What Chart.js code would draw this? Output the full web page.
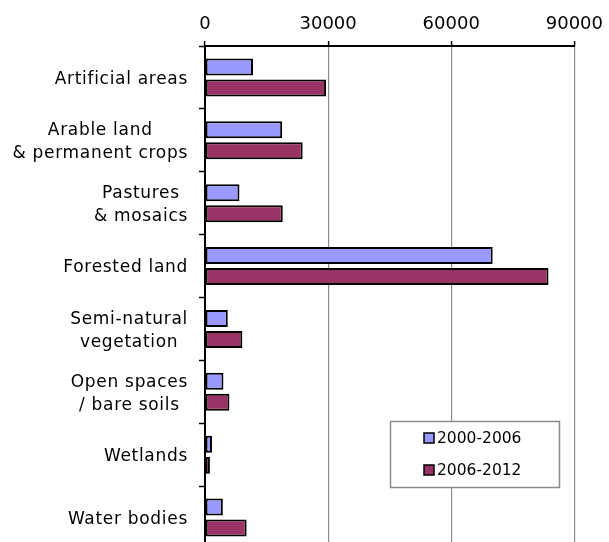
<!DOCTYPE html>
<html>
<head>
<meta charset="utf-8">
<script src="https://cdn.jsdelivr.net/npm/chart.js@4"></script>
<style>
  html, body { margin: 0; padding: 0; background: #fff; overflow: hidden; }
  #wrap { width: 609px; height: 552px; position: relative; }
</style>
</head>
<body>
<div id="wrap"><canvas id="chart"></canvas></div>
<script>
const categories = [
  ['Artificial areas'],
  ['Arable land', '& permanent crops'],
  ['Pastures', '& mosaics'],
  ['Forested land'],
  ['Semi-natural', 'vegetation'],
  ['Open spaces', '/ bare soils'],
  ['Wetlands'],
  ['Water bodies'],
];
const seriesNames = ['2000-2006', '2006-2012'];
const values2000 = [11700, 18800, 8400, 70100, 5550, 4500, 1700, 4350];
const values2006 = [29500, 23800, 18950, 83700, 9100, 5950, 1200, 10150];
const xTicks = [0, 30000, 60000, 90000];

const colours = ['#9999ff', '#993366'];
const fontFamily = "'DejaVu Sans', Verdana, sans-serif";

// category labels: each block right aligned, its lines centred on each other
const categoryLabelPlugin = {
  id: 'categoryLabels',
  afterDraw(chart) {
    const { ctx } = chart;
    const yScale = chart.scales.y;
    const rightEdge = yScale.right - 17;
    const lineHeight = 23;
    ctx.save();
    ctx.font = `17px ${fontFamily}`;
    ctx.letterSpacing = '0.7px';
    ctx.fillStyle = '#000';
    ctx.textAlign = 'center';
    ctx.textBaseline = 'middle';
    categories.forEach((lines, index) => {
      const y = yScale.getPixelForTick(index) + 2;
      const widest = Math.max(...lines.map((line) => ctx.measureText(line).width));
      const x = rightEdge - widest / 2;
      const top = y - ((lines.length - 1) * lineHeight) / 2;
      lines.forEach((line, i) => ctx.fillText(line, x, top + i * lineHeight));
    });
    ctx.restore();
  },
};

// legend box sitting inside the plot, like the spreadsheet original
const boxedLegendPlugin = {
  id: 'boxedLegend',
  afterDatasetsDraw(chart) {
    const { ctx } = chart;
    ctx.save();
    ctx.fillStyle = '#fff';
    ctx.strokeStyle = '#8c8c8c';
    ctx.lineWidth = 1.5;
    ctx.fillRect(390.5, 421.5, 169, 66);
    ctx.strokeRect(390.5, 421.5, 169, 66);
    ctx.font = `15.5px ${fontFamily}`;
    ctx.textAlign = 'left';
    ctx.textBaseline = 'middle';
    chart.data.datasets.forEach((dataset, i) => {
      const y = 438 + i * 32;
      ctx.fillStyle = dataset.backgroundColor;
      ctx.fillRect(424, y - 5, 10, 10);
      ctx.strokeStyle = '#000';
      ctx.lineWidth = 1.5;
      ctx.strokeRect(424, y - 5, 10, 10);
      ctx.fillStyle = '#000';
      ctx.fillText(dataset.label, 437, y + 1);
    });
    ctx.restore();
  },
};

const makeDataset = (label, data, colour) => ({
  label,
  data,
  backgroundColor: colour,
  borderColor: '#000',
  borderWidth: 2,
  borderSkipped: false,
  barPercentage: 0.81,
  categoryPercentage: 0.67,
});

new Chart(document.getElementById('chart'), {
  type: 'bar',
  data: {
    labels: categories,
    datasets: [
      makeDataset(seriesNames[0], values2000, colours[0]),
      makeDataset(seriesNames[1], values2006, colours[1]),
    ],
  },
  plugins: [categoryLabelPlugin, boxedLegendPlugin],
  options: {
    indexAxis: 'y',
    responsive: true,
    maintainAspectRatio: false,
    animation: false,
    layout: { padding: { top: 0, left: 0, right: 32, bottom: 3 } },
    scales: {
      x: {
        position: 'top',
        min: xTicks[0],
        max: xTicks[xTicks.length - 1],
        afterBuildTicks(scale) {
          scale.ticks = xTicks.map((value) => ({ value }));
        },
        afterFit(scale) {
          scale.height = 46;
        },
        ticks: {
          color: '#000',
          padding: 6,
          maxRotation: 0,
          font: { family: fontFamily, size: 18 },
          callback: (value) => String(value),
        },
        grid: {
          color: (c) => (c.tick && c.tick.value === 0 ? 'rgba(0,0,0,0)' : '#8c8c8c'),
          lineWidth: 1.2,
          tickColor: '#000',
          tickLength: 5,
          tickWidth: 1.5,
        },
        border: { color: '#000', width: 2 },
      },
      y: {
        afterFit(scale) {
          scale.width = 205;
        },
        ticks: { display: false },
        grid: {
          offset: true,
          drawOnChartArea: false,
          tickColor: '#000',
          tickLength: 6,
          tickWidth: 1.5,
        },
        border: { color: '#000', width: 2 },
      },
    },
    plugins: {
      legend: { display: false },
      tooltip: { enabled: false },
    },
  },
});
</script>
</body>
</html>
